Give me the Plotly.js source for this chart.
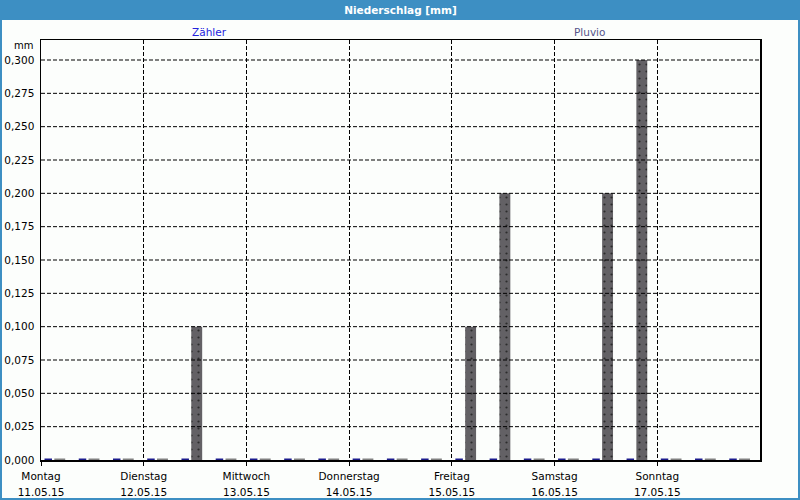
<!DOCTYPE html>
<html>
<head>
<meta charset="utf-8">
<script src="https://cdn.plot.ly/plotly-3.0.1.min.js"></script>
<style>
  html, body { margin: 0; padding: 0; background: #ffffff; }
  #chart { width: 800px; height: 500px; }
</style>
</head>
<body>
<div id="chart"></div>
<script>
// ---- data ----
const dayNames = ['Montag', 'Dienstag', 'Mittwoch', 'Donnerstag', 'Freitag', 'Samstag', 'Sonntag'];
const dayDates = ['11.05.15', '12.05.15', '13.05.15', '14.05.15', '15.05.15', '16.05.15', '17.05.15'];
const intervalHours = [0, 8, 16];            // 8-hour accumulation periods per day
const seriesNames = ['Zähler', 'Pluvio'];
// values per 8h period, Monday 00:00 ... Sunday 16:00 (21 periods)
const zaehler = [0, 0, 0,  0, 0, 0,  0, 0, 0,  0, 0, 0,  0, 0, 0,  0, 0, 0,  0, 0, 0];
const pluvio  = [0, 0, 0,  0, 0.1, 0,  0, 0, 0,  0, 0, 0,  0.1, 0.2, 0,  0, 0.2, 0.3,  0, 0, 0];
const yTicks = [0, 0.025, 0.05, 0.075, 0.1, 0.125, 0.15, 0.175, 0.2, 0.225, 0.25, 0.275, 0.3];

// ---- derived ----
const periodStart = [];
dayNames.forEach((d, di) => intervalHours.forEach(h => periodStart.push(di * 24 + h)));
const dayTickVals = dayNames.map((d, i) => i * 24);
const dayTickText = dayNames.map((d, i) =>
  '<span style="font-size:10.5px">' + d + '</span><br><span style="font-size:10.5px">' + dayDates[i] + '</span>');

const FONT = 'DejaVu Sans, Tahoma, Verdana, sans-serif';
const gridDash = '4px,2px';

const traceZ = {
  type: 'bar',
  name: seriesNames[0],
  x: periodStart,
  y: zaehler,
  offset: 0.82,
  width: 1.75,
  marker: {
    color: '#1a1a8c',
    line: { color: '#1a1a8c', width: zaehler.map(v => v === 0 ? 3 : 0) }
  },
  hoverinfo: 'x+y',
  showlegend: false
};
const traceP = {
  type: 'bar',
  name: seriesNames[1],
  x: periodStart,
  y: pluvio,
  offset: 3.11,
  width: 2.55,
  marker: {
    color: '#636165',
    pattern: { shape: '.', bgcolor: '#636165', fgcolor: '#2c2c2c', size: 7, solidity: 0.08, fillmode: 'replace' },
    line: { color: '#808080', width: pluvio.map(v => v === 0 ? 3 : 0) }
  },
  hoverinfo: 'x+y',
  showlegend: false
};

const L = 41, R = 40, T = 40, B = 40, W = 800, H = 500;
const pw = W - L - R, ph = H - T - B;
const px = v => v / pw, py = v => v / ph;

// horizontal grid lines drawn above the bars, as in the original
const gridShapes = yTicks.filter(v => v > 0).map(v => ({
  type: 'line', xref: 'paper', yref: 'y', layer: 'above',
  x0: 0, x1: 1, y0: v, y1: v,
  line: { color: '#000000', width: 1, dash: gridDash }
}));

const layout = {
  width: W, height: H,
  margin: { l: L, r: R, t: T, b: B, pad: 0 },
  paper_bgcolor: '#fcfefc',
  plot_bgcolor: '#fcfefc',
  separators: ', ',
  font: { family: FONT, size: 10.5, color: '#000000' },
  barmode: 'overlay',
  title: {
    text: '<b>Niederschlag [mm]</b>',
    font: { family: FONT, size: 10.5, color: '#ffffff' },
    x: 0.5, xanchor: 'center', xref: 'paper',
    y: 1 - 10 / H, yanchor: 'middle', yref: 'container'
  },
  xaxis: {
    range: [0, 168],
    tickvals: dayTickVals,
    ticktext: dayTickText,
    tickangle: 0,
    tickfont: { family: FONT, size: 12.3, color: '#000' },
    ticks: 'outside', ticklen: 4, tickcolor: '#000', tickwidth: 1,
    showgrid: true, gridcolor: '#000000', gridwidth: 1, griddash: gridDash,
    showline: true, linecolor: '#000', linewidth: 1.5, mirror: true,
    zeroline: false, fixedrange: true
  },
  yaxis: {
    range: [0, 0.315],
    tickvals: yTicks,
    tickformat: '.3f',
    tickfont: { family: FONT, size: 10.5, color: '#000' },
    ticks: '', ticklabelstandoff: 3,
    showgrid: false,
    showline: true, linecolor: '#000', linewidth: 1.5, mirror: true,
    zeroline: false, fixedrange: true
  },
  shapes: [
    { type: 'rect', xref: 'paper', yref: 'paper', layer: 'below',
      x0: -px(L), x1: 1 + px(R), y0: 1 + py(T - 20), y1: 1 + py(T),
      fillcolor: '#3d8fc3', line: { width: 0 } },
    { type: 'rect', xref: 'paper', yref: 'paper', layer: 'above',
      x0: -px(L - 1), x1: 1 + px(R - 1), y0: -py(B - 1), y1: 1 + py(T),
      fillcolor: 'rgba(0,0,0,0)', line: { color: '#3d8fc3', width: 2 } }
  ].concat(gridShapes),
  annotations: [
    { text: seriesNames[0], xref: 'paper', yref: 'paper', x: (209 - L) / pw, y: 1 + py(T - 32),
      xanchor: 'center', yanchor: 'middle', showarrow: false,
      font: { family: FONT, size: 10.5, color: '#2323dc' } },
    { text: seriesNames[1], xref: 'paper', yref: 'paper', x: (589 - L) / pw, y: 1 + py(T - 32),
      xanchor: 'center', yanchor: 'middle', showarrow: false,
      font: { family: FONT, size: 10.5, color: '#55558a' } },
    { text: 'mm', xref: 'paper', yref: 'paper', x: -px(6), y: 1 - py(6),
      xanchor: 'right', yanchor: 'middle', showarrow: false,
      font: { family: FONT, size: 10, color: '#000' } }
  ]
};

Plotly.newPlot('chart', [traceZ, traceP], layout, { displayModeBar: false, staticPlot: true });
</script>
</body>
</html>
